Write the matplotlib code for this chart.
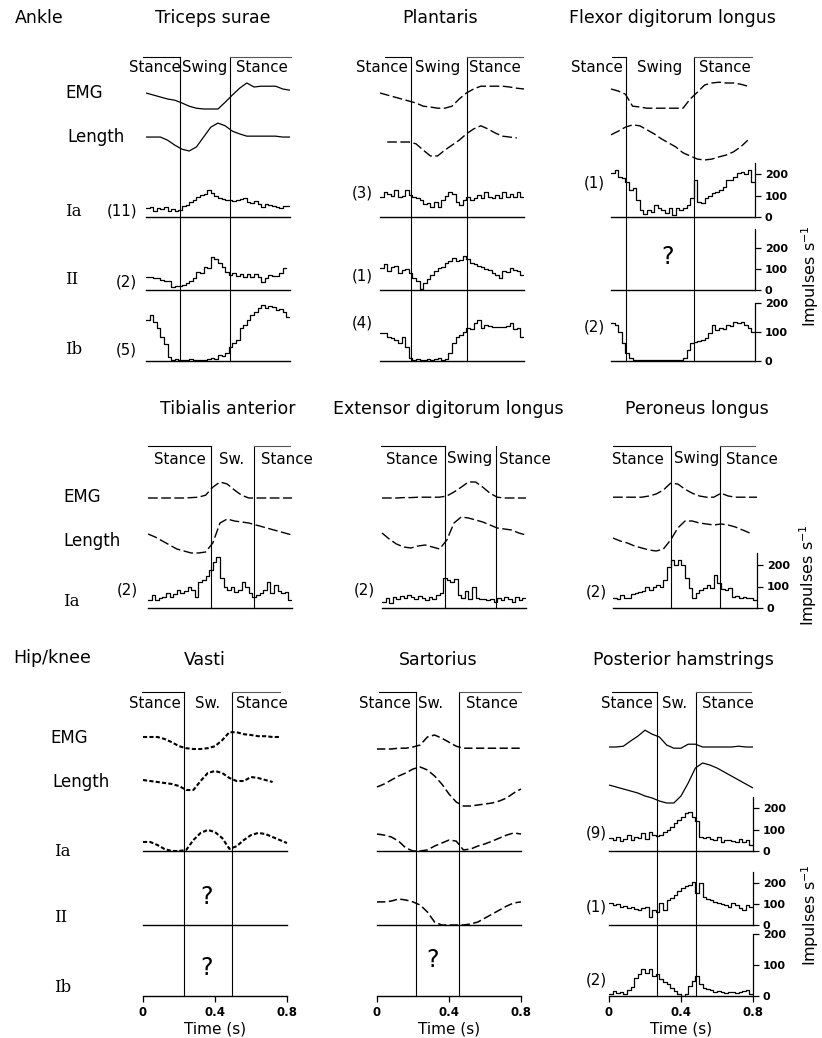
import numpy as np
import matplotlib
matplotlib.use("Agg")
import matplotlib.pyplot as plt

nan = np.nan

# ------------------------------------------------------------------ data
T_SMOOTH = np.round(np.arange(21) * 0.04, 2)   # sample times (s) of EMG / length / model curves
T_BINS = np.round(np.arange(41) * 0.02, 2)     # bin edges (s) of firing-rate histograms

# swing phase (start, end) in s
TS_SWING = (0.189, 0.467)
PLANT_SWING = (0.172, 0.483)
FDL_SWING = (0.083, 0.461)
TA_SWING = (0.35, 0.589)
EDL_SWING = (0.35, 0.633)
PL_SWING = (0.322, 0.594)
VA_SWING = (0.228, 0.494)
SA_SWING = (0.217, 0.456)
PH_SWING = (0.267, 0.483)

# EMG and length (arbitrary units 0-100)
TS_EMG = [55, 50, 45, 40, 37, 30, 22, 17, 15, 15, 15, 32, 50, 67, 80, 70, 72, 72, 72, 65, 62]
TS_LEN = [51, 51, 51, 44, 33, 24, 20, 29, 51, 73, 82, 76, 64, 58, 53, 53, 53, 53, 53, 51, 51]
PLANT_EMG = [55, 50, 45, 40, 35, 30, 22, 20, 17, 17, 22, 40, 55, 65, 72, 72, 72, 72, 70, 67, 65]
PLANT_LEN = [nan, 40, 40, 40, 40, 36, 22, 9, 9, 22, 33, 44, 58, 69, 76, 69, 60, 53, 51, 49, nan]
FDL_EMG = [65, 60, 52, 22, 20, 17, 17, 17, 17, 17, 17, 40, 57, 75, 80, 82, 80, 80, 77, 72, nan]
FDL_LEN = [56, 64, 73, 78, 76, 67, 58, 47, 38, 29, 16, 9, 2, 0, 2, 7, 11, 18, 29, 44, nan]
TA_EMG = [30, 30, 30, 30, 30, 30, 31, 32, 37, 57, 70, 65, 50, 37, 30, 30, 30, 30, 30, 30, 30]
TA_LEN = [52, 46, 38, 30, 22, 18, 14, 14, 16, 34, 74, 82, 78, 76, 74, 70, 66, 62, 58, 54, 50]
EDL_EMG = [30, 30, 30, 31, 31, 32, 32, 32, 32, 35, 45, 57, 70, 70, 57, 42, 32, 30, 30, 30, 30]
EDL_LEN = [54, 42, 32, 26, 24, 28, 30, 26, 22, 40, 74, 86, 84, 80, 76, 70, 64, 62, 60, 54, 50]
PL_EMG = [32, 32, 32, 32, 32, 35, 40, 50, 67, 65, 52, 42, 35, 32, 32, 42, 35, 32, 32, 32, 32]
PL_LEN = [44, 38, 34, 28, 24, 20, 18, 22, 40, 64, 78, 78, 74, 72, 70, 72, 70, 66, 60, 54, nan]
VA_EMG = [45, 45, 45, 40, 32, 22, 17, 15, 15, 17, 22, 37, 57, 57, 52, 50, 47, 47, 45, 45, nan]
VA_LEN = [50, 48, 46, 44, 42, 38, 30, 30, 48, 64, 68, 64, 54, 48, 48, 56, 54, 50, 46, nan, nan]
SA_EMG = [15, 15, 15, 17, 17, 20, 25, 45, 50, 42, 32, 22, 17, 17, 17, 17, 17, 17, 17, 17, 17]
SA_LEN = [36, 42, 50, 58, 64, 72, 76, 70, 58, 42, 22, 6, -2, -2, 0, 2, 4, 8, 14, 24, 32]
PH_EMG = [20, 20, 22, 35, 47, 62, 52, 45, 25, 17, 17, 27, 27, 20, 20, 20, 20, 20, 22, 20, 20]
PH_LEN = [40, 36, 32, 28, 24, 18, 14, 8, 4, 4, 18, 44, 74, 84, 80, 74, 66, 58, 50, 42, 34]

# model-predicted afferent rates (impulses/s, smooth curves)
VA_IA = [42, 42, 28, 9, 0, 0, 5, 51, 84, 98, 88, 60, 10, 22, 51, 74, 84, 79, 65, 51, 37]
SA_IA = [79, 74, 65, 46, 14, 0, 0, 5, 23, 37, 51, 46, 5, 9, 23, 33, 46, 60, 74, 84, 79]
SA_II = [110, 110, 114, 124, 119, 110, 95, 62, 14, 0, 0, 0, 0, 5, 14, 33, 52, 71, 90, 105, 110]

# recorded afferent firing rates (impulses/s, 20 ms bins)
TS_IA = [42, 45, 30, 40, 35, 45, 28, 38, 30, 33, 50, 56, 70, 80, 93, 102, 105, 126, 110, 100,
         88, 85, 79, 80, 74, 78, 84, 90, 72, 65, 74, 60, 47, 60, 55, 51, 48, 44, 50, 51]
TS_II = [62, 60, 57, 55, 50, 43, 45, 14, 19, 20, 24, 33, 45, 57, 86, 83, 110, 105, 157, 148,
         129, 110, 86, 71, 81, 67, 76, 62, 76, 62, 76, 60, 38, 57, 71, 67, 67, 80, 105, nan]
TS_IB = [141, 159, 134, 114, 83, 60, 14, 5, 8, 3, 5, 3, 6, 2, 4, 5, 3, 6, 12, 8,
         20, 18, 28, 50, 62, 72, 114, 124, 141, 159, 169, 183, 193, 183, 190, 186, 176, 180, 169, 152]
PLANT_IA = [93, 116, 107, 100, 126, 93, 100, 126, 102, 93, 90, 79, 60, 65, 47, 70, 47, 79, 100, 116,
            107, 70, 56, 79, 93, 79, 90, 102, 88, 116, 95, 88, 102, 90, 116, 93, 107, 95, 116, 93]
PLANT_II = [105, 124, 90, 110, 114, 81, 95, 100, 81, 57, 43, 5, 33, 52, 70, 90, 105, 110, 129, 140,
            152, 138, 145, 162, 148, 130, 124, 114, 110, 100, 95, 81, 70, 57, 90, 85, 105, 95, 90, 71]
PLANT_IB = [97, 95, 83, 80, 72, 62, 83, 48, 10, 4, 6, 3, 5, 8, 4, 6, 10, 5, 8, 28,
            62, 83, 90, 100, 114, 110, 131, 141, 114, 124, 120, 117, 117, 117, 117, 120, 131, 110, 114, 83]
FDL_IA = [205, 219, 186, 181, 163, 126, 135, 79, 33, 12, 33, 23, 56, 42, 33, 19, 42, 9, 42, 33,
          40, 56, 90, 172, 70, 65, 88, 100, 112, 116, 125, 140, 172, 170, 186, 205, 209, 200, 219, 163]
FDL_IB = [131, 124, 100, 62, 28, 10, 3, 2, 4, 2, 3, 2, 3, 2, 3, 2, 3, 2, 3, 5,
          10, 38, 62, 66, 70, 72, 79, 97, 124, 107, 114, 110, 124, 120, 134, 131, 134, 124, 114, 100]
TA_IA = [37, 60, 37, 45, 51, 70, 51, 65, 84, 70, 80, 98, 84, 51, 121, 130, 150, 175, 214, 237,
         140, 98, 84, 98, 74, 85, 121, 98, 70, 51, 60, 70, 84, 121, 70, 107, 80, 70, 74, 37]
EDL_IA = [30, 45, 25, 50, 40, 55, 45, 60, 50, 40, 55, 45, 35, 50, 40, 60, 70, 140, 130, 120,
          135, 60, 45, 80, 40, 100, 45, 40, 42, 35, 40, 30, 45, 35, 50, 40, 30, 50, 35, 45]
PL_IA = [47, 40, 60, 45, 47, 65, 70, 74, 80, 98, 84, 100, 107, 98, 130, 191, 223, 200, 223, 200,
         140, 93, 47, 70, 84, 93, 107, 93, 153, 116, 90, 84, 93, 51, 55, 47, 51, 45, 47, 37]
PH_IA = [60, 51, 65, 45, 56, 74, 51, 65, 60, 84, 56, 88, 74, 70, 75, 88, 100, 112, 130, 144,
         160, 177, 181, 160, 140, 65, 60, 65, 55, 51, 65, 42, 50, 51, 45, 42, 56, 42, 51, 30]
PH_II = [105, 95, 100, 86, 90, 80, 86, 75, 71, 80, 86, 38, 71, 62, 105, 71, 119, 130, 143, 160,
         176, 185, 190, 205, 152, 200, 133, 125, 119, 110, 105, 100, 95, 86, 105, 95, 80, 71, 95, 86]
PH_IB = [6, 16, 10, 13, 6, 20, 29, 58, 71, 87, 74, 87, 65, 71, 55, 45, 39, 26, 16, 5,
         0, 6, 32, 48, 65, 40, 26, 23, 18, 13, 16, 14, 10, 12, 13, 10, 13, 16, 19, 6]

# ------------------------------------------------------------------ layout
W, H, DPI = 822, 1038, 100
PANEL_W = 144  # px for 0.8 s

plt.rcParams['font.family'] = ['DejaVu Sans']
plt.rcParams['lines.scale_dashes'] = False
plt.rcParams['axes.linewidth'] = 1.0

fig = plt.figure(figsize=(W / DPI, H / DPI), dpi=DPI)
fig.patch.set_facecolor('white')


def add_ax(x_left, y_top, w, h, ylim=(0, 1)):
    ax = fig.add_axes([x_left / W, 1 - (y_top + h) / H, w / W, h / H])
    ax.set_facecolor('none')
    for s in ax.spines.values():
        s.set_visible(False)
    ax.set_xticks([])
    ax.set_yticks([])
    ax.set_xlim(0, 0.8)
    ax.set_ylim(*ylim)
    return ax


def ftext(px, py, s, **kw):
    fig.text(px / W, 1 - py / H, s, **kw)


ROWS = {
    'top': dict(phase_top=57, lab_y=68, title_y=18, emg=(75, 115), length=(115, 160),
                rates={'Ia': (217, 21.5), 'II': (290, 21.0), 'Ib': (361, 29.0)}, bottom=361),
    'mid': dict(phase_top=446, lab_y=459, title_y=409, emg=(470, 510), length=(510, 560),
                rates={'Ia': (608, 21.5)}, bottom=608),
    'bot': dict(phase_top=692, lab_y=704, title_y=660, emg=(715, 755), length=(755, 805),
                rates={'Ia': (851, 21.5), 'II': (925, 21.0), 'Ib': (996, 31.0)}, bottom=996),
}

LONG = dict(ls=(0, (7, 2.5)), lw=1.0)
SHORT = dict(ls=(0, (3, 1.6)), lw=1.5)
SOLID = dict(ls='-', lw=0.9)

panels = [
    dict(title='Triceps surae', tx=213, row='top', x0=146, swing=TS_SWING,
         labels=('Stance', 'Swing', 'Stance'), lab_t=(0.05, 0.328, 0.644),
         over=((-0.017, 0.806)), emg=TS_EMG, length=TS_LEN, style=SOLID,
         rates={'Ia': ('step', TS_IA), 'II': ('step', TS_II), 'Ib': ('step', TS_IB)},
         counts=[(137, 211, '(11)'), (137, 282, '(2)'), (137, 350, '(5)')], right=None),
    dict(title='Plantaris', tx=440, row='top', x0=380, swing=PLANT_SWING,
         labels=('Stance', 'Swing', 'Stance'), lab_t=(0.011, 0.322, 0.639),
         over=((0.028, 0.794)), emg=PLANT_EMG, length=PLANT_LEN, style=LONG,
         rates={'Ia': ('step', PLANT_IA), 'II': ('step', PLANT_II), 'Ib': ('step', PLANT_IB)},
         counts=[(373, 193, '(3)'), (373, 276, '(1)'), (373, 323, '(4)')], right=None),
    dict(title='Flexor digitorum longus', tx=672, row='top', x0=611, swing=FDL_SWING,
         labels=('Stance', 'Swing', 'Stance'), lab_t=(-0.078, 0.272, 0.633),
         over=((0.006, 0.783)), emg=FDL_EMG, length=FDL_LEN, style=LONG,
         rates={'Ia': ('step', FDL_IA), 'II': None, 'Ib': ('step', FDL_IB)},
         counts=[(605, 183, '(1)'), (605, 327, '(2)')],
         right={'Ia': 250, 'II': 290, 'Ib': 200}, quest=[(668, 257)], imp_y=276, imp_x=810),
    dict(title='Tibialis anterior', tx=228, row='mid', x0=148, swing=TA_SWING,
         labels=('Stance', 'Sw.', 'Stance'), lab_t=(0.178, 0.467, 0.772),
         over=((0.0, 0.789)), emg=TA_EMG, length=TA_LEN, style=LONG,
         rates={'Ia': ('step', TA_IA)}, counts=[(138, 590, '(2)')], right=None),
    dict(title='Extensor digitorum longus', tx=448, row='mid', x0=382, swing=EDL_SWING,
         labels=('Stance', 'Swing', 'Stance'), lab_t=(0.167, 0.489, 0.794),
         over=((-0.006, None)), emg=EDL_EMG, length=EDL_LEN, style=LONG,
         rates={'Ia': ('step', EDL_IA)}, counts=[(375, 590, '(2)')], right=None),
    dict(title='Peroneus longus', tx=697, row='mid', x0=613, swing=PL_SWING,
         labels=('Stance', 'Swing', 'Stance'), lab_t=(0.139, 0.467, 0.772),
         over=((0.0, 0.789)), emg=PL_EMG, length=PL_LEN, style=LONG,
         rates={'Ia': ('step', PL_IA)}, counts=[(607, 592, '(2)')],
         right={'Ia': 255}, imp_y=575, imp_x=808),
    dict(title='Vasti', tx=205, row='bot', x0=143, swing=VA_SWING,
         labels=('Stance', 'Sw.', 'Stance'), lab_t=(0.067, 0.361, 0.661),
         over=((-0.006, 0.761)), emg=VA_EMG, length=VA_LEN, style=SHORT,
         rates={'Ia': ('smooth', VA_IA), 'II': None, 'Ib': None},
         counts=[], right=None, quest=[(207, 897), (207, 968)], xaxis=True),
    dict(title='Sartorius', tx=438, row='bot', x0=377, swing=SA_SWING,
         labels=('Stance', 'Sw.', 'Stance'), lab_t=(0.044, 0.3, 0.639),
         over=((0.011, 0.8)), emg=SA_EMG, length=SA_LEN, style=dict(ls=(0, (6, 2.5)), lw=1.1),
         rates={'Ia': ('smooth', SA_IA), 'II': ('smooth', SA_II), 'Ib': None},
         counts=[], right=None, quest=[(433, 960)], xaxis=True),
    dict(title='Posterior hamstrings', tx=683, row='bot', x0=609, swing=PH_SWING,
         labels=('Stance', 'Sw.', 'Stance'), lab_t=(0.1, 0.367, 0.661),
         over=((0.017, 0.789)), emg=PH_EMG, length=PH_LEN, style=SOLID,
         rates={'Ia': ('step', PH_IA), 'II': ('step', PH_II), 'Ib': ('step', PH_IB)},
         counts=[(607, 833, '(9)'), (607, 907, '(1)'), (607, 980, '(2)')],
         right={'Ia': 250, 'II': 252, 'Ib': 200}, xaxis=True, imp_y=915, imp_x=810),
]

TITLE_FS = 12.5
LAB_FS = 10.8
ROWLAB_FS = 12

# group labels and row labels
ftext(15, 18, 'Ankle', fontsize=TITLE_FS, ha='left', va='center')
ftext(13, 658, 'Hip/knee', fontsize=TITLE_FS, ha='left', va='center')

row_labels = [
    (65, 93, 'EMG', 'sans'), (67, 137, 'Length', 'sans'), (65, 211, 'Ia', 'serif'),
    (65, 280, 'II', 'serif'), (65, 350, 'Ib', 'serif'),
    (63, 497, 'EMG', 'sans'), (63, 541, 'Length', 'sans'), (63, 601, 'Ia', 'serif'),
    (50, 738, 'EMG', 'sans'), (52, 782, 'Length', 'sans'), (54, 852, 'Ia', 'serif'),
    (54, 918, 'II', 'serif'), (54, 987, 'Ib', 'serif'),
]
for x, y, s, fam in row_labels:
    ftext(x, y, s, fontsize=ROWLAB_FS, ha='left', va='center',
          family=['DejaVu Serif'] if fam == 'serif' else ['DejaVu Sans'])

for p in panels:
    r = ROWS[p['row']]
    x0 = p['x0']
    ftext(p['tx'], r['title_y'], p['title'], fontsize=TITLE_FS, ha='center', va='center')

    # phase frame
    ph_h = r['bottom'] - r['phase_top']
    pax = add_ax(x0, r['phase_top'], PANEL_W, ph_h)
    s0, s1 = p['swing']
    for t in (s0, s1):
        pax.plot([t, t], [0, 1], color='k', lw=0.8, clip_on=False, zorder=1)
    left_start, right_end = p['over']
    pax.plot([left_start, s0], [1, 1], color='k', lw=0.8, clip_on=False)
    if right_end is not None:
        pax.plot([s1, right_end], [1, 1], color='#555555', lw=0.8, clip_on=False)
    lab_frac = (r['bottom'] - r['lab_y']) / ph_h
    for t, s in zip(p['lab_t'], p['labels']):
        pax.text(t, lab_frac, s, fontsize=LAB_FS, ha='center', va='center', zorder=3)

    # EMG and length
    for key, band in (('emg', r['emg']), ('length', r['length'])):
        ax = add_ax(x0, band[0], PANEL_W, band[1] - band[0], ylim=(0, 100))
        ax.plot(T_SMOOTH, p[key], color='k', solid_capstyle='butt', clip_on=False, **p['style'])

    # afferent rows
    for name, (base, px100) in r['rates'].items():
        ymax = 300
        h = ymax * px100 / 100.0
        ax = add_ax(x0, base - h, PANEL_W, h, ylim=(0, ymax))
        ax.spines['bottom'].set_visible(True)
        ax.spines['bottom'].set_linewidth(1.0)
        entry = p['rates'].get(name)
        if entry is not None:
            kind, vals = entry
            if kind == 'step':
                ax.step(T_BINS, list(vals) + [vals[-1]], where='post', color='k', lw=0.9)
            else:
                ax.plot(T_SMOOTH, vals, color='k', clip_on=False, **p['style'])
        if p.get('right') and name in p['right']:
            ax.spines['right'].set_visible(True)
            ax.spines['right'].set_bounds(0, p['right'][name])
            ax.spines['right'].set_linewidth(0.9)
            ax.yaxis.set_ticks_position('right')
            ax.set_yticks([0, 100, 200])
            ax.set_yticklabels(['0', '100', '200'], fontsize=8, fontweight='bold')
            ax.tick_params(axis='y', direction='out', length=4, width=0.9, pad=3)
        if p.get('xaxis') and name == 'Ib':
            ax.set_xticks([0, 0.4, 0.8])
            ax.set_xticklabels(['0', '0.4', '0.8'], fontsize=8.5, fontweight='bold')
            ax.tick_params(axis='x', direction='out', length=4, width=0.9, pad=3)
            ax.set_xlabel('Time (s)', fontsize=11, labelpad=2)

    for x, y, s in p['counts']:
        ftext(x, y, s, fontsize=LAB_FS, ha='right', va='center')
    for x, y in p.get('quest', []):
        ftext(x, y, '?', fontsize=17, ha='center', va='center')
    if 'imp_y' in p:
        ftext(p['imp_x'], p['imp_y'], r'Impulses s$^{-1}$', fontsize=11.5, rotation=90,
              ha='center', va='center')

fig.savefig('out.png', dpi=DPI, facecolor='white')
